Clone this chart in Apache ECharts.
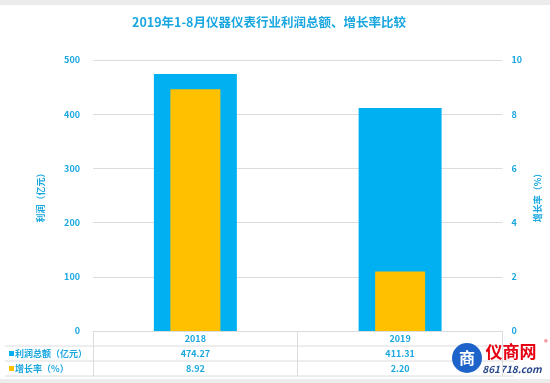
<!DOCTYPE html>
<html><head><meta charset="utf-8">
<script src="https://cdn.jsdelivr.net/npm/echarts@6/dist/echarts.min.js"></script>
<style>html,body{margin:0;padding:0;background:#fff}#c{width:550px;height:383px}</style>
</head><body><div id="c"></div>
<script>
var categories = ['2018', '2019'];
var profit = [474.27, 411.31];
var growth = [8.92, 2.20];
var leftTicks = [0, 500, 100];
var rightTicks = [0, 10, 2];
var seriesNames = ['利润总额（亿元）', '增长率（%）'];

var BLUE = '#00B0F0', ORANGE = '#FFC000', TXT = '#1AA7E0', LINE = '#dcdcdc';
var chart = echarts.init(document.getElementById('c'));
var font = '"Noto Sans CJK SC", "Open Sans", sans-serif';
chart.setOption({
  backgroundColor: '#fff',
  animation: false,
  textStyle: {fontFamily: font},
  title: {text: '2019年1-8月仪器仪表行业利润总额、增长率比较', left: 264, top: 11, textAlign: 'center',
    textStyle: {color: TXT, fontSize: 12.5, fontWeight: 'bold', fontFamily: font}},
  grid: {left: 93, right: 36, top: 60, bottom: 52},
  xAxis: [
    {type: 'category', data: categories, position: 'bottom',
     axisLine: {show: true, lineStyle: {color: LINE}},
     axisTick: {show: true, length: 45, lineStyle: {color: LINE}},
     axisLabel: {color: TXT, fontSize: 9, margin: 3, fontWeight: 'bold'}},
    {type: 'category', data: profit.map(function(v){return v.toFixed(2);}), position: 'bottom', offset: 15,
     axisLine: {show: false}, axisTick: {show: false},
     axisLabel: {color: TXT, fontSize: 9, margin: 3, fontWeight: 'bold'}},
    {type: 'category', data: growth.map(function(v){return v.toFixed(2);}), position: 'bottom', offset: 30,
     axisLine: {show: false}, axisTick: {show: false},
     axisLabel: {color: TXT, fontSize: 9, margin: 3, fontWeight: 'bold'}}
  ],
  yAxis: [
    {type: 'value', min: leftTicks[0], max: leftTicks[1], interval: leftTicks[2],
     name: '利润（亿元）', nameLocation: 'middle', nameGap: 48,
     nameTextStyle: {color: TXT, fontSize: 9, fontWeight: 'bold'},
     axisLine: {show: false}, axisTick: {show: false},
     axisLabel: {color: TXT, fontSize: 9, margin: 13, fontWeight: 'bold'},
     splitLine: {lineStyle: {color: LINE}}},
    {type: 'value', min: rightTicks[0], max: rightTicks[1], interval: rightTicks[2], position: 'right',
     name: '增长率（%）', nameLocation: 'middle', nameGap: 26,
     nameTextStyle: {color: TXT, fontSize: 9, fontWeight: 'bold'},
     axisLine: {show: false}, axisTick: {show: false},
     axisLabel: {color: TXT, fontSize: 9, margin: 9, fontWeight: 'bold'},
     splitLine: {show: false}}
  ],
  series: [
    {name: seriesNames[0], type: 'bar', xAxisIndex: 0, yAxisIndex: 0, data: profit, barWidth: 83,
     itemStyle: {color: BLUE}},
    {name: seriesNames[1], type: 'bar', xAxisIndex: 1, yAxisIndex: 1, data: growth, barWidth: 50,
     itemStyle: {color: ORANGE}}
  ],
  graphic: [
    {type: 'rect', shape: {x: 0, y: 0, width: 550, height: 5}, style: {fill: '#ececec'}, silent: true},
    {type: 'rect', shape: {x: 0, y: 379, width: 550, height: 4}, style: {fill: '#ececec'}, silent: true},
    {type: 'line', shape: {x1: 5, y1: 346, x2: 514, y2: 346}, style: {stroke: LINE, lineWidth: 1}},
    {type: 'line', shape: {x1: 5, y1: 361, x2: 514, y2: 361}, style: {stroke: LINE, lineWidth: 1}},
    {type: 'line', shape: {x1: 5, y1: 376, x2: 514, y2: 376}, style: {stroke: LINE, lineWidth: 1}},
    {type: 'rect', shape: {x: 9, y: 351, width: 5, height: 5}, style: {fill: BLUE}},
    {type: 'text', style: {x: 15, y: 353.5, text: seriesNames[0], fill: TXT, font: 'bold 9px ' + font, textVerticalAlign: 'middle', verticalAlign: 'middle'}},
    {type: 'rect', shape: {x: 9, y: 366, width: 5, height: 5}, style: {fill: ORANGE}},
    {type: 'text', style: {x: 15, y: 368.5, text: seriesNames[1], fill: TXT, font: 'bold 9px ' + font, textVerticalAlign: 'middle', verticalAlign: 'middle'}},
    {type: 'circle', shape: {cx: 467, cy: 358, r: 15}, style: {fill: '#1e63c9'}},
    {type: 'text', style: {x: 467, y: 358, text: '商', fill: '#fff', font: 'bold 16px ' + font, align: 'center', verticalAlign: 'middle'}},
    {type: 'text', style: {x: 511, y: 352, text: '仪商网', fill: '#e60012', font: 'bold 17px ' + font, align: 'center', verticalAlign: 'middle'}},
    {type: 'text', style: {x: 546, y: 342, text: '®', fill: '#e60012', font: '7px ' + font, align: 'center', verticalAlign: 'middle'}},
    {type: 'text', style: {x: 512, y: 369, text: '861718.com', fill: '#2b4a8c', font: 'italic bold 10px ' + font, align: 'center', verticalAlign: 'middle'}}
  ]
});
</script></body></html>
